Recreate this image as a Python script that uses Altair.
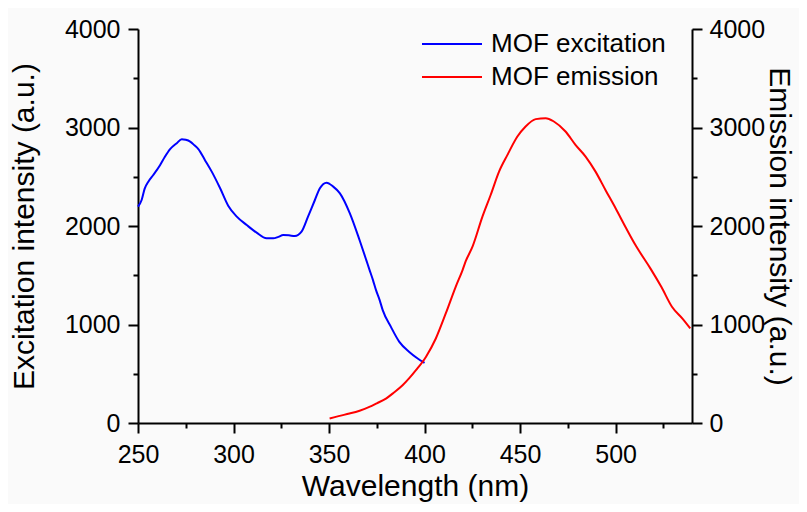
import altair as alt
import pandas as pd

# Excitation spectrum (blue)
exc_wl = [250, 251.9, 253.5, 255.4, 258, 261.6, 264, 266.8, 270.3, 272.9, 275, 277.3,
          279.5, 281.6, 285, 288.6, 293, 297.3, 301.7, 306.9, 312.1, 317.3, 320.8,
          323.5, 326, 329, 332.1, 335.6, 339, 342.6, 345.2, 348.7, 352.2, 355.7,
          360.9, 366.1, 369.5, 371.1, 373, 374.6, 376.5, 378.1, 382.4, 386.8, 392,
          396.4, 400]
exc_int = [2196, 2264, 2380, 2450, 2518, 2620, 2700, 2780, 2841, 2881, 2875, 2857,
           2820, 2780, 2671, 2552, 2383, 2203, 2095, 2010, 1932, 1875, 1875,
           1890, 1908, 1905, 1898, 1942, 2095, 2264, 2383, 2440, 2400, 2332,
           2129, 1850, 1654, 1560, 1451, 1349, 1248, 1146, 976, 824, 722,
           655, 610]

# Emission spectrum (red)
emi_wl = [350.3, 355, 360.7, 366, 371.1, 375, 379.8, 384, 388.5, 392, 395.5, 400.7,
          405.9, 411.1, 416.3, 419.9, 421.5, 425.1, 430.3, 434.6, 439, 443.4, 448.6,
          452.9, 458.2, 463.4, 467.7, 473.8, 479, 484.3, 489.5, 494.7, 500, 505.1,
          510.4, 512, 518.2, 524, 529.5, 535, 539.1]
emi_int = [45, 70, 96, 125, 163, 200, 248, 310, 383, 455, 536, 671,
           858, 1112, 1383, 1553, 1640, 1790, 2095, 2315, 2552, 2722, 2908,
           3010, 3085, 3095, 3061, 2959, 2824, 2705, 2552, 2366, 2180, 1993,
           1807, 1756, 1570, 1380, 1180, 1060, 960]

series_names = ["MOF excitation", "MOF emission"]
series_colors = ["#0000ff", "#ff0000"]

x_ticks = list(range(250, 540, 25))
y_ticks = list(range(0, 4001, 500))

exc_df = pd.DataFrame({"wl": exc_wl, "val": exc_int, "series": series_names[0]})
emi_df = pd.DataFrame({"wl": emi_wl, "val": emi_int, "series": series_names[1]})

FONT = "Liberation Sans"

legend = alt.Legend(
    title=None, orient="none", legendX=283, legendY=-1.5,
    symbolType="stroke", symbolSize=3600, symbolStrokeWidth=2,
    labelFontSize=26, labelFont=FONT, labelColor="black", labelLimit=0,
    clipHeight=33, rowPadding=0, padding=0, labelOffset=8,
)

color = alt.Color("series:N",
                  scale=alt.Scale(domain=series_names, range=series_colors),
                  legend=legend)

x_enc = alt.X("wl:Q",
              scale=alt.Scale(domain=[250, 540], nice=False, zero=False),
              axis=alt.Axis(title="Wavelength (nm)", values=x_ticks, format="d",
                            labelExpr="datum.value % 50 === 0 ? datum.label : ''",
                            tickSize={"condition": {"test": "datum.value % 50 === 0", "value": 10}, "value": 5},
                            labelFlush=False, labelPadding=9, titlePadding=4,
                            labelOverlap=False))

def y_axis(title, orient, lpad, tpad):
    return alt.Axis(title=title, orient=orient, values=y_ticks, format="d",
                    labelExpr="datum.value % 1000 === 0 ? datum.label : ''",
                    tickSize={"condition": {"test": "datum.value % 1000 === 0", "value": 10}, "value": 5},
                    labelPadding=lpad, titlePadding=tpad, labelOverlap=False,
                    labelFlush=False)

exc = alt.Chart(exc_df).mark_line(strokeWidth=2, interpolate="monotone").encode(
    x=x_enc,
    y=alt.Y("val:Q", scale=alt.Scale(domain=[0, 4000], nice=False),
            axis=y_axis("Excitation intensity (a.u.)", "left", 8, 25)),
    color=color,
)

emi = alt.Chart(emi_df).mark_line(strokeWidth=2, interpolate="monotone").encode(
    x=x_enc,
    y=alt.Y("val:Q", scale=alt.Scale(domain=[0, 4000], nice=False),
            axis=y_axis("Emission intensity (a.u.)", "right", 7, -1)),
    color=color,
)

chart = alt.layer(exc, emi).resolve_scale(y="independent").properties(
    width=554, height=394,
    autosize=alt.AutoSizeParams(type="none"),
    padding={"left": 130, "top": 21, "right": 107, "bottom": 81},
    background="#fafafa",
).configure_view(strokeWidth=0).configure_axis(
    grid=False, domainColor="black", domainWidth=2, tickColor="black", tickWidth=2,
    labelFont=FONT, labelFontSize=25, labelColor="black",
    titleFont=FONT, titleFontSize=30, titleFontWeight="normal", titleColor="black",
)

chart.save("out.html", embed_options={"renderer": "svg", "actions": False})
